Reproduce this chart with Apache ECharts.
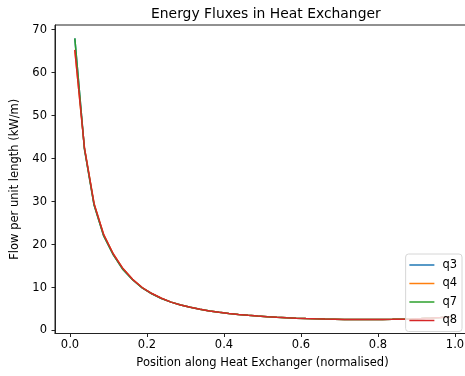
<!DOCTYPE html>
<html>
<head>
<meta charset="utf-8">
<script src="https://cdn.jsdelivr.net/npm/echarts@6/dist/echarts.min.js"></script>
<style>
  html, body { margin: 0; padding: 0; background: #fff; }
  #chart { width: 465px; height: 376px; }
</style>
</head>
<body>
<div id="chart"></div>
<script>
// positions along the exchanger (cell midpoints)
const positions = [0.0125, 0.0375, 0.0625, 0.0875, 0.1125, 0.1375, 0.1625, 0.1875, 0.2125, 0.2375,
  0.2625, 0.2875, 0.3125, 0.3375, 0.3625, 0.3875, 0.4125, 0.4375, 0.4625, 0.4875,
  0.5125, 0.5375, 0.5625, 0.5875, 0.6125, 0.6375, 0.6625, 0.6875, 0.7125, 0.7375,
  0.7625, 0.7875, 0.8125, 0.8375, 0.8625, 0.8875, 0.9125, 0.9375, 0.9625, 0.9875]

// flow per unit length (kW/m)
const q8 = [65.3, 42.5, 29.5, 22.3, 17.8, 14.4, 11.9, 10.0, 8.6, 7.5,
  6.6, 5.95, 5.4, 4.95, 4.55, 4.22, 3.95, 3.72, 3.52, 3.35,
  3.2, 3.07, 2.96, 2.87, 2.79, 2.72, 2.66, 2.62, 2.58, 2.56,
  2.55, 2.55, 2.56, 2.59, 2.64, 2.7, 2.78, 2.88, 3.0, 3.15]
const q7 = [68.0, 42.2, 29.2, 22.0, 17.6, 14.2, 11.8, 9.9, 8.55, 7.45,
  6.6, 5.95, 5.4, 4.95, 4.55, 4.22, 3.95, 3.72, 3.52, 3.35,
  3.2, 3.07, 2.96, 2.87, 2.79, 2.72, 2.66, 2.62, 2.58, 2.56,
  2.55, 2.55, 2.56, 2.59, 2.64, 2.7, 2.78, 2.88, 3.0, 3.15]
const q4 = q8.slice()
const q3 = q7.slice()

const xTicks = [0, 0.2, 0.4, 0.6, 0.8, 1.0]
const yTicks = [0, 10, 20, 30, 40, 50, 60, 70]

const seriesNames = ['q3', 'q4', 'q7', 'q8']
const seriesData = [q3, q4, q7, q8]
const colors = ['#1f77b4', '#ff7f0e', '#2ca02c', '#d62728']

const font = 'DejaVu Sans'

let chart = echarts.init(document.getElementById('chart'), null, { renderer: 'canvas' })
chart.setOption({
  animation: false,
  color: colors,
  textStyle: { fontFamily: font },
  title: {
    text: 'Energy Fluxes in Heat Exchanger',
    left: 146,
    top: 2,
    textStyle: { fontFamily: font, fontSize: 13.9, fontWeight: 'normal', color: '#000' }
  },
  legend: {
    orient: 'vertical',
    right: 3,
    top: 254,
    padding: [5, 5, 5, 3],
    itemWidth: 25,
    itemHeight: 10,
    itemGap: 6.5,
    borderColor: '#d6d6d6',
    borderWidth: 1,
    borderRadius: 3,
    backgroundColor: 'rgba(255,255,255,0.8)',
    itemStyle: { color: 'rgba(0,0,0,0)', borderColor: 'rgba(0,0,0,0)', borderWidth: 0, opacity: 0 },
    lineStyle: { width: 1.5 },
    textStyle: { fontFamily: font, fontSize: 11.5, color: '#000', padding: [0, 0, 0, 3] },
    data: seriesNames
  },
  grid: {
    left: 55,
    top: 25,
    right: -5,
    bottom: 42.5,
    outerBoundsMode: 'none',
    containLabel: false,
    show: true,
    borderColor: '#222',
    borderWidth: 1
  },
  xAxis: {
    type: 'value',
    min: -0.039,
    max: 1.039,
    name: 'Position along Heat Exchanger (normalised)',
    nameLocation: 'middle',
    nameGap: 24,
    nameTextStyle: { fontFamily: font, fontSize: 11.5, color: '#000' },
    axisLine: { onZero: false, lineStyle: { color: '#222', width: 1 } },
    axisTick: { show: true, length: 3.5, inside: false, customValues: xTicks, lineStyle: { color: '#222' } },
    axisLabel: {
      customValues: xTicks,
      formatter: v => v.toFixed(1),
      fontFamily: font, fontSize: 11.5, color: '#000', margin: 6
    },
    splitLine: { show: false }
  },
  yAxis: {
    type: 'value',
    min: -0.7,
    max: 71.1,
    name: 'Flow per unit length (kW/m)',
    nameLocation: 'middle',
    nameRotate: 90,
    nameGap: 27,
    nameTextStyle: { fontFamily: font, fontSize: 11.5, color: '#000' },
    axisLine: { show: true, onZero: false, lineStyle: { color: '#222', width: 1 } },
    axisTick: { show: true, length: 3.5, customValues: yTicks, lineStyle: { color: '#222' } },
    axisLabel: {
      customValues: yTicks,
      fontFamily: font, fontSize: 11.5, color: '#000', margin: 8
    },
    splitLine: { show: false }
  },
  series: seriesNames.map((name, i) => ({
    name: name,
    type: 'line',
    symbol: 'none',
    lineStyle: { width: 1.5, color: colors[i] },
    itemStyle: { color: colors[i] },
    data: positions.map((x, j) => [x, seriesData[i][j]])
  }))
})
</script>
</body>
</html>
